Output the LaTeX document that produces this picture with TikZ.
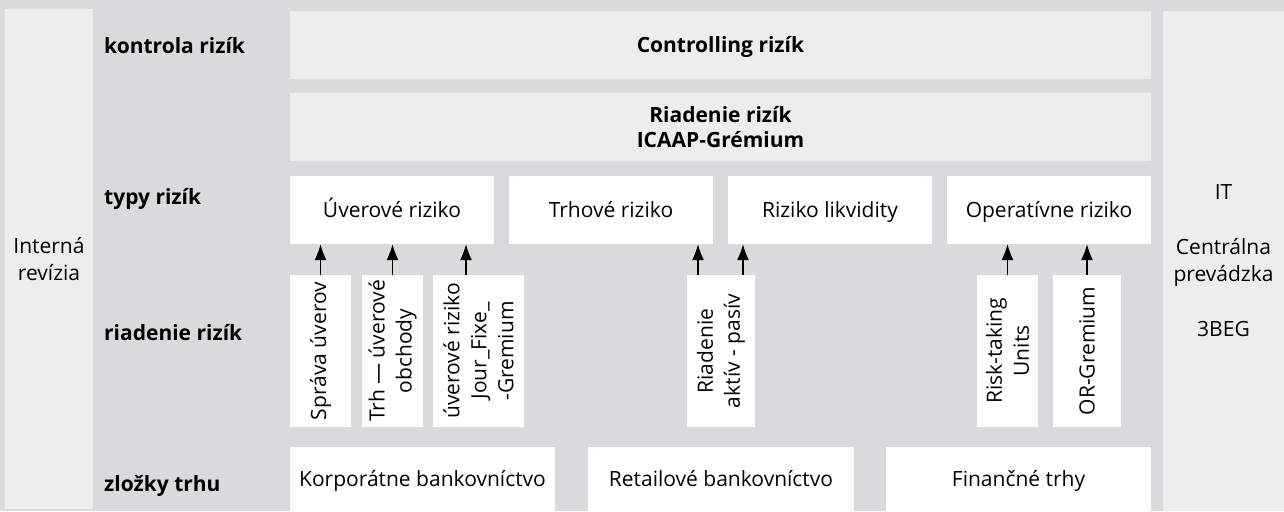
\documentclass[tikz,border=0pt]{standalone}
\usepackage{fontspec}
\setmainfont{Open Sans}
\usetikzlibrary{arrows.meta}
\definecolor{bggray}{RGB}{217,218,220}
\definecolor{panelgray}{RGB}{236,237,236}

\begin{document}
\begin{tikzpicture}[x=1pt, y=-1pt,
  every node/.style={font=\fontsize{21pt}{27pt}\selectfont, inner sep=0pt},
  panel/.style={fill=panelgray, align=center},
  boldpanel/.style={panel, font=\fontsize{21pt}{25pt}\selectfont\bfseries},
  cell/.style={fill=white, text height=15pt, text depth=0pt},
  vcell/.style={fill=white, align=center, rotate=90, minimum width=152pt},
  rowlabel/.style={font=\fontsize{21pt}{27pt}\selectfont\bfseries, anchor=base west},
  arr/.style={-{Latex[length=16pt,width=12pt]}, line width=1.2pt}]
  \fill[bggray] (0,0) rectangle (1284,511);
  \useasboundingbox (0,0) rectangle (1284,511);
  % side columns
  \node[panel, minimum width=88pt, minimum height=500pt] (revizia) at (49,259) {Interná\\revízia};
  \node[panel, minimum width=121pt, minimum height=500pt] (it) at (1223.5,261) {IT\\[28pt]Centrálna\\prevádzka\\[28pt]3BEG};
  % row labels
  \node[rowlabel] (kontrola) at (104,53) {kontrola rizík};
  \node[rowlabel] (typy) at (104,204) {typy rizík};
  \node[rowlabel] (riadrow) at (104,340) {riadenie rizík};
  \node[rowlabel] (zlozky) at (104,491) {zložky trhu};
  % top
  \node[boldpanel, minimum width=861pt, minimum height=68pt, text height=15pt, text depth=0pt] (ctrl) at (720.5,45) {Controlling rizík};
  \node[boldpanel, minimum width=861pt, minimum height=68pt] (riad) at (720.5,127) {Riadenie rizík\\ICAAP-Grémium};
  % typy rizik
  \node[cell, minimum width=204pt, minimum height=68pt] (uver) at (392,210) {Úverové riziko};
  \node[cell, minimum width=204pt, minimum height=68pt] (trhove) at (611,210) {Trhové riziko};
  \node[cell, minimum width=204pt, minimum height=68pt] (likv) at (830,210) {Riziko likvidity};
  \node[cell, minimum width=204pt, minimum height=68pt] (oper) at (1049,210) {Operatívne riziko};
  % riadenie rizik
  \node[vcell, minimum height=61pt] (sprava) at (320.5,351) {Správa úverov};
  \node[vcell, minimum height=61pt] (trhuv) at (392.5,351) {Trh — úverové\\obchody};
  \node[vcell, minimum height=91pt] (jour) at (478.5,351) {úverové riziko\\Jour\_Fixe\_\\-Gremium};
  \node[vcell, minimum height=68pt] (aktiv) at (721,351) {Riadenie\\aktív - pasív};
  \node[vcell, minimum height=61pt] (risktak) at (1007.5,351) {Risk-taking\\Units};
  \node[vcell, minimum height=68pt] (orgrem) at (1087,351) {OR-Gremium};
  % zlozky trhu
  \node[cell, minimum width=265pt, minimum height=64pt] (korp) at (422.5,479) {Korporátne bankovníctvo};
  \node[cell, minimum width=266pt, minimum height=64pt] (retail) at (721,479) {Retailové bankovníctvo};
  \node[cell, minimum width=265pt, minimum height=64pt] (fin) at (1018.5,479) {Finančné trhy};
  % arrows
  \draw[arr] (sprava.east) -- (sprava.east |- uver.south);
  \draw[arr] (trhuv.east) -- (trhuv.east |- uver.south);
  \draw[arr] ([xshift=-12.5pt]jour.east) -- ([xshift=-12.5pt]jour.east |- uver.south);
  \draw[arr] ([xshift=-23pt]aktiv.east) -- ([xshift=-23pt]aktiv.east |- trhove.south);
  \draw[arr] ([xshift=22pt]aktiv.east) -- ([xshift=22pt]aktiv.east |- likv.south);
  \draw[arr] (risktak.east) -- (risktak.east |- oper.south);
  \draw[arr] (orgrem.east) -- (orgrem.east |- oper.south);
\end{tikzpicture}
\end{document}
